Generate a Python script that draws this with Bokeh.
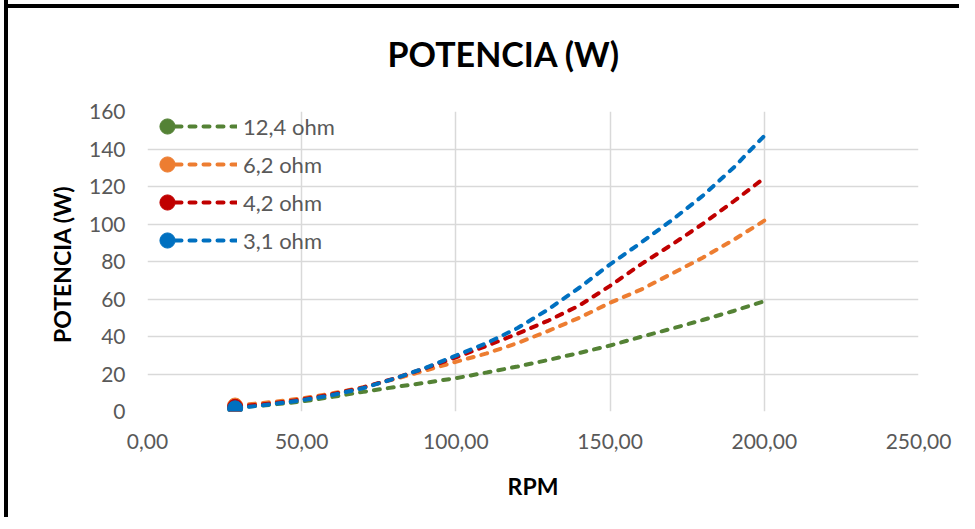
from bokeh.plotting import figure
from bokeh.models import Legend, LegendItem, FixedTicker
from bokeh.core.properties import value
from bokeh.embed import file_html
from bokeh.resources import INLINE

# ---- data ----
rpm = [28.4, 40, 50, 60, 70, 80, 90, 100, 110, 120, 130, 140, 150, 160, 170, 180, 190, 200]
p_12_4 = [2.0, 3.6, 5.3, 7.8, 10.5, 13.0, 15.3, 17.8, 20.8, 24.0, 27.5, 31.2, 35.2, 39.8, 44.2, 48.8, 53.6, 58.8]
p_6_2 = [3.2, 5.0, 7.0, 9.7, 13.0, 17.2, 21.8, 26.5, 31.0, 36.5, 43.0, 50.0, 58.0, 65.0, 73.5, 82.0, 91.5, 101.8]
p_4_2 = [2.5, 4.3, 6.4, 9.2, 12.8, 17.6, 23.0, 28.9, 35.0, 41.5, 48.5, 56.5, 67.0, 78.5, 89.0, 100.0, 112.0, 124.5]
p_3_1 = [1.7, 3.8, 6.0, 8.8, 12.5, 17.5, 23.2, 29.8, 36.5, 44.5, 54.5, 66.0, 78.5, 90.0, 102.0, 115.0, 130.0, 147.0]

series_labels = ["12,4 ohm", "6,2 ohm", "4,2 ohm", "3,1 ohm"]
series_values = [p_12_4, p_6_2, p_4_2, p_3_1]
series_colors = ["#548235", "#ED7D31", "#C00000", "#0070C0"]

x_ticks = [0, 50, 100, 150, 200, 250]
x_tick_labels = ["0,00", "50,00", "100,00", "150,00", "200,00", "250,00"]
y_ticks = [0, 20, 40, 60, 80, 100, 120, 140, 160]

title_text = "POTENCIA (W)"
x_title = "RPM"
y_title = "POTENCIA  (W)"

FONT = "Lato"
GRAY = "#595959"

W, H = 955, 526
p = figure(width=W, height=H, output_backend="svg", toolbar_location=None,
           x_range=(0, 250), y_range=(0, 160), title=title_text,
           min_border_left=139, min_border_right=45, min_border_top=120, min_border_bottom=106,
           background_fill_color="white", border_fill_color="white", border_fill_alpha=0)
# outer chart frame: black band on the left and on top (drawn by the host element)
p.styles = {"border-left": "4px solid black", "margin-left": "4px", "margin-top": "-9px",
            "background": "linear-gradient(black, black) no-repeat 0px 13px / 100% 4px"}
p.outline_line_color = None

# title
p.title.align = "left"
p.title.offset = 240
p.title.standoff = 76
p.title.text_font = FONT
p.title.text_font_size = "34px"
p.title.text_font_style = "bold"
p.title.text_color = "black"

# axes
p.xaxis.ticker = FixedTicker(ticks=x_ticks)
p.xaxis.major_label_overrides = {t: l for t, l in zip(x_ticks, x_tick_labels)}
p.yaxis.ticker = FixedTicker(ticks=y_ticks)
for ax in (p.xaxis, p.yaxis):
    ax.axis_line_color = None
    ax.major_tick_line_color = None
    ax.minor_tick_line_color = None
    ax.major_tick_out = 0
    ax.major_tick_in = 0
    ax.major_label_text_font = FONT
    ax.major_label_text_font_size = "21px"
    ax.major_label_text_color = GRAY
    ax.axis_label_text_font = FONT
    ax.axis_label_text_font_size = "23px"
    ax.axis_label_text_font_style = "bold"
    ax.axis_label_text_color = "black"
p.xaxis.major_label_standoff = 22
p.yaxis.major_label_standoff = 22
p.xaxis.axis_label = x_title
p.yaxis.axis_label = y_title
p.xaxis.axis_label_standoff = 20
p.yaxis.axis_label_standoff = 10

p.xgrid.ticker = FixedTicker(ticks=x_ticks)
p.ygrid.ticker = FixedTicker(ticks=y_ticks)
for g in (p.xgrid, p.ygrid):
    g.grid_line_color = "#d9d9d9"
    g.grid_line_width = 1.5

# series
line_rs, mark_rs = [], []
for vals, col in zip(series_values, series_colors):
    lr = p.line(rpm, vals, line_color=col, line_width=4, line_dash="6 8", line_cap="round")
    mr = p.scatter(rpm[:1], vals[:1], marker="circle", size=15, fill_color=col, line_color=col)
    line_rs.append(lr)
    mark_rs.append(mr)

# legends: markers on the left, dashed lines + labels to their right
leg_m = Legend(items=[LegendItem(label=value(" "), renderers=[m]) for m in mark_rs],
               location=(1, 152), glyph_width=38, glyph_height=38, spacing=0, padding=0,
               margin=0, label_standoff=0, label_width=0, label_height=0,
               label_text_font_size="1px", background_fill_alpha=0, border_line_color=None)
leg_l = Legend(items=[LegendItem(label=value(s), renderers=[l]) for s, l in zip(series_labels, line_rs)],
               location=(28, 156), glyph_width=62, glyph_height=30, spacing=8, padding=0,
               margin=0, label_standoff=6, label_height=30,
               label_text_font=FONT, label_text_font_size="22px", label_text_color=GRAY,
               background_fill_alpha=0, border_line_color=None)
p.add_layout(leg_m)
p.add_layout(leg_l)

open("out.html", "w").write(file_html(p, INLINE))
